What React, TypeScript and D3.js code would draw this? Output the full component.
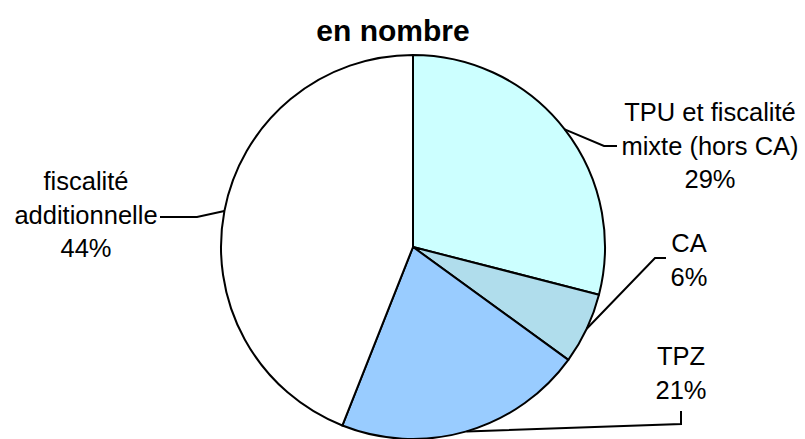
import React from "react";
import * as d3 from "d3";

// Répartition des groupements, en nombre
const categories = ["TPU et fiscalité mixte (hors CA)", "CA", "TPZ", "fiscalité additionnelle"];
const shares = [29, 6, 21, 44];
const labelLines = [
  ["TPU et fiscalité", "mixte (hors CA)", "29%"],
  ["CA", "6%"],
  ["TPZ", "21%"],
  ["fiscalité", "additionnelle", "44%"],
];
const colors = ["#CCFFFF", "#B0DDEC", "#99CCFF", "#FFFFFF"];

const W = 805;
const H = 439;
const cx = 413;
const cy = 247;
const R = 192;
const FONT = "Arial, 'Liberation Sans', sans-serif";

// label placement: text centre x, first baseline y, and leader polyline points
const labelLayout = [
  { x: 710, y: 121, elbow: [604, 146], end: [617, 146] },
  { x: 689, y: 252, elbow: [655, 258], end: [666, 258] },
  { x: 681, y: 365, elbow: [681, 424], end: [681, 411] },
  { x: 86, y: 190, elbow: [197, 217], end: [160, 217] },
];
const lineGap = 33.5;

export default function App() {
  const data = categories.map((c, i) => ({ c, v: shares[i] }));
  const pie = d3.pie<{ c: string; v: number }>().value((d) => d.v).sort(null);
  const arcs = pie(data);
  const arc = d3.arc<d3.PieArcDatum<{ c: string; v: number }>>().innerRadius(0).outerRadius(R);

  return (
    <svg width={W} height={H} style={{ position: "absolute", left: 0, top: 0, background: "#fff" }}>
      <text x={393} y={41} textAnchor="middle" fontFamily={FONT} fontWeight="bold" fontSize={30}>
        en nombre
      </text>
      <g transform={`translate(${cx},${cy})`}>
        {arcs.map((a, i) => (
          <path key={i} d={arc(a) || ""} fill={colors[i]} stroke="#000" strokeWidth={2} strokeLinejoin="round" />
        ))}
      </g>
      {arcs.map((a, i) => {
        const mid = (a.startAngle + a.endAngle) / 2;
        const sx = cx + R * Math.sin(mid);
        const sy = cy - R * Math.cos(mid);
        const L = labelLayout[i];
        const pts = [[sx, sy], L.elbow, L.end];
        return (
          <g key={i}>
            <path d={d3.line()(pts as [number, number][]) || ""} fill="none" stroke="#000" strokeWidth={2} />
            <text textAnchor="middle" fontFamily={FONT} fontSize={25.5} fill="#000">
              {labelLines[i].map((t, j) => (
                <tspan key={j} x={L.x} y={L.y + j * lineGap}>
                  {t}
                </tspan>
              ))}
            </text>
          </g>
        );
      })}
    </svg>
  );
}
